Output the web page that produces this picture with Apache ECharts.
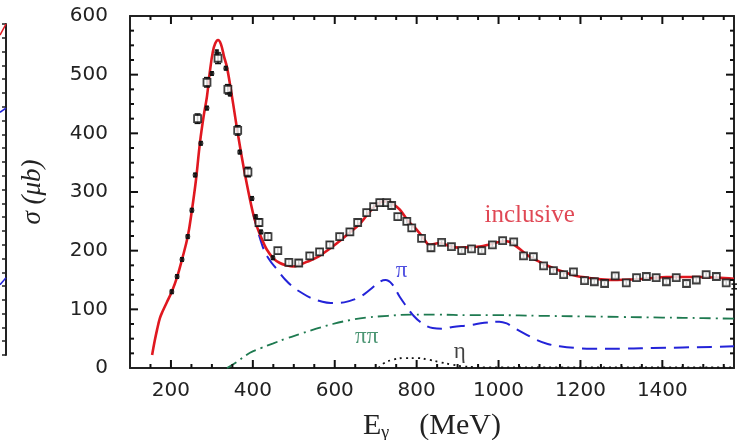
<!DOCTYPE html>
<html>
<head>
<meta charset="utf-8">
<script src="https://cdn.jsdelivr.net/npm/echarts@6/dist/echarts.min.js"></script>
<style>
  html, body { margin: 0; padding: 0; background: #ffffff; }
  #chart { width: 737px; height: 440px; background: #ffffff; }
</style>
</head>
<body>
<div id="chart"></div>
<script>
// Total photoabsorption cross section: model curve (inclusive) and partial channels
const inclusiveE = [154, 160, 166, 173, 180, 190, 202, 215, 227, 241, 251, 261, 271, 280, 288, 295, 302, 308, 315, 322, 330, 337, 349, 363, 380, 400, 410, 422, 434, 450, 466, 482, 498, 515, 532, 560, 595, 615, 637, 660, 678, 695, 710, 727, 743, 759, 780, 800, 816, 832, 856, 880, 905, 930, 954, 975, 995, 1020, 1044, 1060, 1076, 1100, 1124, 1145, 1166, 1190, 1215, 1250, 1290, 1330, 1370, 1410, 1450, 1490, 1532, 1575];
const inclusiveSigma = [22, 45, 65, 85, 97, 112, 130, 155, 185, 224, 268, 320, 385, 430, 463, 505, 538, 553, 559, 552, 530, 512, 463, 401, 333, 265, 241, 220, 202, 187, 179, 175, 173, 176, 181, 190, 207, 218, 231, 245, 260, 274, 282, 284, 279, 270, 250, 236, 222, 210, 213, 208, 205, 206, 207, 210, 214, 216, 207, 198, 190, 181, 173, 167, 162, 157, 154, 151, 150, 151, 153, 155, 155, 155, 154, 152];

// single-pion channel
const piE = [400, 424, 440, 459, 480, 500, 515, 540, 570, 590, 612, 635, 661, 685, 710, 724, 740, 759, 775, 790, 810, 839, 865, 888, 929, 965, 1002, 1020, 1034, 1060, 1093, 1120, 1149, 1190, 1229, 1300, 1376, 1450, 1520, 1575];
const piSigma = [265, 207, 185, 168, 150, 137, 130, 120, 113, 111, 111, 114, 121, 133, 147, 150, 143, 121, 105, 91, 78, 68, 67, 70, 73, 77, 79, 76, 70, 60, 48, 41, 37, 34, 33, 33, 34, 35, 36, 37];

// double-pion channel
const pipiE = [337, 360, 393, 420, 450, 480, 515, 555, 595, 640, 678, 730, 790, 850, 929, 1000, 1100, 1200, 1300, 1400, 1500, 1575];
const pipiSigma = [0, 10, 26, 34, 42, 50, 58, 67, 75, 82, 86, 89, 91, 91, 90, 90, 89, 88, 87, 86, 85, 84];

// eta channel
const etaE = [707, 720, 741, 770, 800, 830, 856, 885, 912, 940, 970, 1100, 1300, 1575];
const etaSigma = [0, 8, 14, 17, 17, 14, 10, 6, 3, 1.5, 1, 1, 1, 1];

// measured points, set A (open squares)
const setAE = [265, 288, 315, 339, 363, 388, 415, 437, 461, 488, 512, 539, 563, 588, 612, 637, 656, 678, 695, 710, 727, 739, 754, 776, 788, 812, 835, 861, 885, 910, 934, 959, 985, 1010, 1037, 1061, 1085, 1110, 1134, 1159, 1183, 1210, 1234, 1259, 1285, 1312, 1337, 1361, 1385, 1410, 1434, 1459, 1483, 1507, 1532, 1556, 1576];
const setASigma = [425, 487, 528, 475, 405, 334, 248, 224, 200, 180, 179, 191, 198, 210, 224, 232, 248, 265, 275, 282, 282, 277, 258, 250, 239, 221, 205, 214, 207, 200, 203, 200, 210, 217, 215, 191, 190, 174, 166, 159, 164, 149, 147, 144, 157, 145, 154, 156, 154, 147, 154, 144, 150, 159, 156, 145, 139];
const setAErr = [8, 8, 9, 8, 8, 8, 6, 6, 5, 5, 5, 5, 5, 5, 5, 5, 5, 5, 5, 5, 5, 5, 5, 5, 5, 5, 5, 4, 4, 4, 4, 4, 4, 4, 4, 4, 4, 4, 4, 4, 4, 4, 4, 4, 4, 4, 4, 4, 4, 4, 4, 4, 4, 4, 4, 4, 4];

// measured points, set B (filled dots)
const setBE = [202, 215, 227, 241, 251, 259, 273, 288, 300, 312, 334, 344, 368, 398, 407, 420, 449];
const setBSigma = [130, 156, 185, 224, 269, 329, 383, 443, 502, 538, 511, 467, 368, 289, 258, 232, 188];
const setBErr = [3, 3, 3, 3, 3, 3, 3, 3, 3, 4, 3, 3, 3, 3, 3, 3, 3];

// channel labels and where they sit (E, sigma)
const labelTexts = ['inclusive', 'π', 'ππ', 'η'];
const labelE = [1076, 763, 678, 905];
const labelSigma = [260, 165, 53, 28];

// axis ticks
const xTickLabels = [200, 400, 600, 800, 1000, 1200, 1400];
const xMinorTicks = [150, 250, 300, 350, 450, 500, 550, 650, 700, 750, 850, 900, 950, 1050, 1100, 1150, 1250, 1300, 1350, 1450, 1500, 1550];
const yMajorTicks = [100, 200, 300, 400, 500];
const yMinorTicks = [25, 50, 75, 125, 150, 175, 225, 250, 275, 325, 350, 375, 425, 450, 475, 525, 550, 575];

// neighbouring panel edge (its curves leave the frame here)
const sideRedE = [0.0, 1.0];
const sideRed = [23.2, 24.0];
const sideBlueUpperE = [0.0, 1.0];
const sideBlueUpper = [17.6, 17.9];
const sideBlueLowerE = [0.0, 1.0];
const sideBlueLower = [5.1, 5.6];

const pairs = (xs, ys) => xs.map((x, i) => [x, ys[i]]);
const AXIS = '#222222';
const RED = '#e01820';
const BLUE = '#2323d8';
const GREEN = '#1e7a50';
const X_MIN = 100, X_MAX = 1575;
const Y_MIN = 0, Y_MAX = 600;

function errorBars(xs, ys, errs, cap) {
  return {
    type: 'custom',
    xAxisIndex: 0, yAxisIndex: 0,
    z: 4,
    silent: true,
    data: xs.map((x, i) => [x, ys[i] - errs[i], ys[i] + errs[i]]),
    renderItem(params, api) {
      const lo = api.coord([api.value(0), api.value(1)]);
      const hi = api.coord([api.value(0), api.value(2)]);
      const st = { stroke: '#111111', lineWidth: 1.5 };
      return {
        type: 'group',
        children: [
          { type: 'line', shape: { x1: lo[0], y1: lo[1], x2: hi[0], y2: hi[1] }, style: st },
          { type: 'line', shape: { x1: lo[0] - cap, y1: lo[1], x2: lo[0] + cap, y2: lo[1] }, style: st },
          { type: 'line', shape: { x1: hi[0] - cap, y1: hi[1], x2: hi[0] + cap, y2: hi[1] }, style: st }
        ]
      };
    }
  };
}

// inward frame ticks on bottom and top edges
function xFrameTicks(values, len) {
  return {
    type: 'custom', xAxisIndex: 0, yAxisIndex: 0, z: 6, silent: true, clip: false,
    data: values.map(v => [v, Y_MIN]),
    renderItem(params, api) {
      const b = api.coord([api.value(0), Y_MIN]);
      const t = api.coord([api.value(0), Y_MAX]);
      const st = { stroke: '#111111', lineWidth: 2 };
      return {
        type: 'group',
        children: [
          { type: 'line', shape: { x1: b[0], y1: b[1], x2: b[0], y2: b[1] - len }, style: st },
          { type: 'line', shape: { x1: t[0], y1: t[1], x2: t[0], y2: t[1] + len }, style: st }
        ]
      };
    }
  };
}

// inward frame ticks on left and right edges
function yFrameTicks(values, len) {
  return {
    type: 'custom', xAxisIndex: 0, yAxisIndex: 0, z: 6, silent: true, clip: false,
    data: values.map(v => [X_MIN, v]),
    renderItem(params, api) {
      const l = api.coord([X_MIN, api.value(1)]);
      const r = api.coord([X_MAX, api.value(1)]);
      const st = { stroke: '#111111', lineWidth: 2 };
      return {
        type: 'group',
        children: [
          { type: 'line', shape: { x1: l[0], y1: l[1], x2: l[0] + len, y2: l[1] }, style: st },
          { type: 'line', shape: { x1: r[0], y1: r[1], x2: r[0] - len, y2: r[1] }, style: st }
        ]
      };
    }
  };
}

function tickFont() { return { fontFamily: 'DejaVu Sans', fontSize: 20, color: AXIS }; }
function frameLine() { return { show: true, onZero: false, lineStyle: { color: AXIS, width: 2 } }; }

const labelStyles = [
  { color: '#d81a2a', fontSize: 25 },
  { color: BLUE, fontSize: 23 },
  { color: GREEN, fontSize: 23 },
  { color: '#111111', fontSize: 23 }
];

const chart = echarts.init(document.getElementById('chart'));

chart.setOption({
  animation: false,
  grid: [
    { left: 130, right: 3, top: 16, bottom: 72, outerBoundsMode: 'none' },
    { left: 0, width: 6, top: 24, height: 331, outerBoundsMode: 'none' }
  ],
  xAxis: [
    {
      type: 'value', gridIndex: 0, position: 'bottom', min: X_MIN, max: X_MAX,
      axisLine: frameLine(),
      axisTick: { show: false },
      axisLabel: Object.assign({ margin: 13, customValues: xTickLabels, formatter: v => String(v) }, tickFont()),
      splitLine: { show: false },
      name: 'E{sub|γ}    (MeV)',
      nameLocation: 'middle',
      nameGap: 42,
      nameTextStyle: {
        fontFamily: 'Liberation Serif', fontSize: 30, color: AXIS,
        rich: { sub: { fontFamily: 'Liberation Serif', fontSize: 18, color: AXIS, padding: [14, 0, 0, 0] } }
      }
    },
    {
      type: 'value', gridIndex: 0, position: 'top', min: X_MIN, max: X_MAX,
      axisLine: frameLine(),
      axisTick: { show: false },
      axisLabel: { show: false },
      splitLine: { show: false }
    },
    {
      type: 'value', gridIndex: 1, min: 0, max: 1,
      axisLine: { show: false }, axisTick: { show: false }, axisLabel: { show: false }, splitLine: { show: false }
    }
  ],
  yAxis: [
    {
      type: 'value', gridIndex: 0, position: 'left', min: Y_MIN, max: Y_MAX, interval: 100,
      axisLine: frameLine(),
      axisTick: { show: false },
      axisLabel: Object.assign({ margin: 22, formatter: v => String(v) }, tickFont()),
      splitLine: { show: false },
      name: 'σ (μb)',
      nameLocation: 'middle',
      nameGap: 84,
      nameRotate: 90,
      nameTextStyle: { fontFamily: 'Liberation Serif', fontStyle: 'italic', fontSize: 27, color: AXIS }
    },
    {
      type: 'value', gridIndex: 0, position: 'right', min: Y_MIN, max: Y_MAX, interval: 100,
      axisLine: frameLine(),
      axisTick: { show: false },
      axisLabel: { show: false },
      splitLine: { show: false }
    },
    {
      type: 'value', gridIndex: 1, position: 'right', min: 0, max: 24, interval: 1,
      axisLine: frameLine(),
      axisTick: { show: true, inside: true, length: 4, lineStyle: { color: AXIS, width: 1.5 } },
      axisLabel: { show: false },
      splitLine: { show: false }
    }
  ],
  series: [
    xFrameTicks(xTickLabels, 8),
    xFrameTicks(xMinorTicks, 4),
    yFrameTicks(yMajorTicks, 8),
    yFrameTicks(yMinorTicks, 4),
    {
      name: 'ππ', type: 'line', xAxisIndex: 0, yAxisIndex: 0, z: 2,
      data: pairs(pipiE, pipiSigma), smooth: 0.4, showSymbol: false,
      lineStyle: { color: GREEN, width: 1.8, type: [11, 5, 2, 5] }
    },
    {
      name: 'η', type: 'line', xAxisIndex: 0, yAxisIndex: 0, z: 2,
      data: pairs(etaE, etaSigma), smooth: 0.4, showSymbol: false,
      lineStyle: { color: '#111111', width: 1.8, type: [2, 4] }
    },
    {
      name: 'π', type: 'line', xAxisIndex: 0, yAxisIndex: 0, z: 2,
      data: pairs(piE, piSigma), smooth: 0.4, showSymbol: false,
      lineStyle: { color: BLUE, width: 2, type: [15, 8] }
    },
    {
      name: 'inclusive', type: 'line', xAxisIndex: 0, yAxisIndex: 0, z: 3,
      data: pairs(inclusiveE, inclusiveSigma), smooth: 0.4, showSymbol: false,
      lineStyle: { color: RED, width: 2.6 }
    },
    errorBars(setAE, setASigma, setAErr, 3),
    errorBars(setBE, setBSigma, setBErr, 2),
    {
      name: 'set A', type: 'scatter', xAxisIndex: 0, yAxisIndex: 0, z: 5,
      data: pairs(setAE, setASigma), symbol: 'rect', symbolSize: 7,
      itemStyle: { color: '#ffffff', borderColor: '#111111', borderWidth: 1.8 }
    },
    {
      name: 'set B', type: 'scatter', xAxisIndex: 0, yAxisIndex: 0, z: 5,
      data: pairs(setBE, setBSigma), symbol: 'circle', symbolSize: 5,
      itemStyle: { color: '#111111' }
    },
    {
      // channel names written next to their curves
      name: 'labels', type: 'scatter', xAxisIndex: 0, yAxisIndex: 0, z: 6, silent: true,
      symbolSize: 0,
      data: labelTexts.map((t, i) => ({
        value: [labelE[i], labelSigma[i]],
        label: Object.assign({
          show: true, position: 'inside', formatter: t,
          fontFamily: 'Liberation Serif'
        }, labelStyles[i])
      }))
    },
    // neighbouring panel edge
    {
      type: 'line', xAxisIndex: 2, yAxisIndex: 2, data: pairs(sideRedE, sideRed), showSymbol: false,
      lineStyle: { color: RED, width: 1.5 }
    },
    {
      type: 'line', xAxisIndex: 2, yAxisIndex: 2, data: pairs(sideBlueUpperE, sideBlueUpper), showSymbol: false,
      lineStyle: { color: BLUE, width: 1.5 }
    },
    {
      type: 'line', xAxisIndex: 2, yAxisIndex: 2, data: pairs(sideBlueLowerE, sideBlueLower), showSymbol: false,
      lineStyle: { color: BLUE, width: 1.5 }
    }
  ]
});
</script>
</body>
</html>
